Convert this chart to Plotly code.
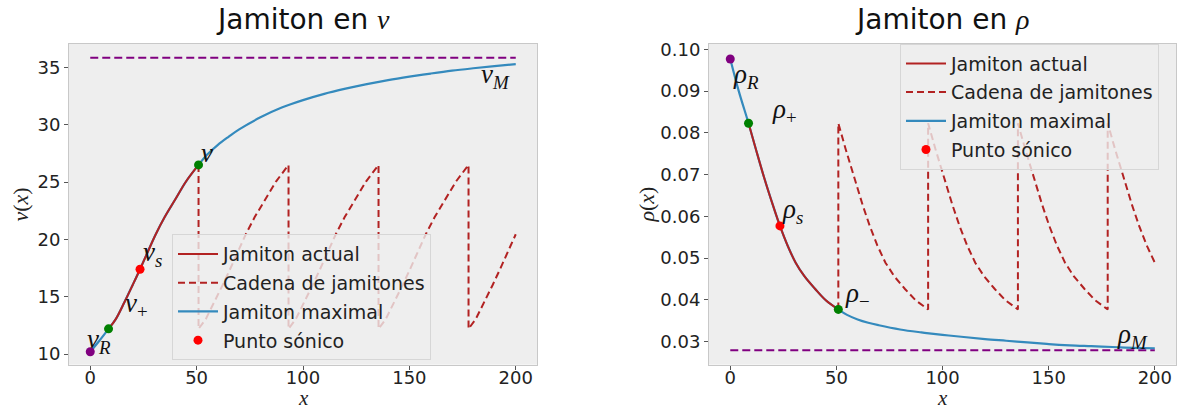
import plotly.graph_objects as go

# Jamiton profile sampled along x: maximal jamiton (covers the whole domain)
x_prof = [0, 4, 8.6, 12, 16, 20, 23.4, 27, 30.8, 35, 40, 45, 50.9, 55, 60, 65, 70, 80,
          90, 100, 110, 120, 130, 140, 150, 160, 170, 180, 190, 200]
v_prof = [10.2, 11.1, 12.2, 13.05, 14.5, 16.05, 17.4, 18.9, 20.45, 21.95, 23.5, 25.05, 26.5,
          27.4, 28.25, 28.95, 29.6, 30.65, 31.5, 32.15, 32.7, 33.15, 33.55, 33.9, 34.2,
          34.47, 34.72, 34.93, 35.12, 35.3]
rho_prof = [0.0977, 0.0900, 0.0823, 0.0762, 0.0692, 0.0628, 0.0577, 0.0530, 0.0489,
            0.0456, 0.0426, 0.0399, 0.0377, 0.0364, 0.0353, 0.0345, 0.0339, 0.0329,
            0.0322, 0.0316, 0.0311, 0.0306, 0.0302, 0.0298, 0.0294, 0.0291, 0.0289,
            0.0287, 0.0285, 0.0284]

# Special points
x_R, v_R, rho_R = 0, 10.2, 0.0977
x_plus, v_plus, rho_plus = 8.6, 12.2, 0.0823
x_sonic, v_sonic, rho_sonic = 23.4, 17.4, 0.0577
x_minus, v_minus, rho_minus = 50.9, 26.5, 0.0377
v_M, rho_M = 35.85, 0.0279
x_lim = [0, 200]

# Chain of jamitons: the actual jamiton repeated with its own wavelength
period = 42.3
n_teeth = 4

i0 = x_prof.index(x_plus)
i1 = x_prof.index(x_minus) + 1
x_act = x_prof[i0:i1]
v_act = v_prof[i0:i1]
rho_act = rho_prof[i0:i1]


def chain(xs, ys):
    cx, cy = [xs[-1]], [ys[-1]]
    for k in range(1, n_teeth + 1):
        for xi, yi in zip(xs, ys):
            xk = xi + k * period
            if xk <= x_lim[1] + 1e-6:
                cx.append(xk)
                cy.append(yi)
    return cx, cy


RED = "#B22222"
BLUE = "#348ABD"
PURPLE = "#800080"
GREEN = "#008000"
DOT_RED = "#FF0000"
SANS = "DejaVu Sans"
SERIF = "Liberation Serif"

fig = go.Figure()


def add_panel(xa, ya, yprof, yact, y_R, y_plus, y_sonic, y_minus, y_M, legend):
    cx, cy = chain(x_act, yact)
    # horizontal asymptote
    fig.add_trace(go.Scatter(x=x_lim, y=[y_M, y_M], mode="lines", xaxis=xa, yaxis=ya,
                             line=dict(color=PURPLE, width=2, dash="8px,4px"),
                             showlegend=False, hoverinfo="skip"))
    fig.add_trace(go.Scatter(x=x_prof, y=yprof, mode="lines", name="Jamiton maximal",
                             xaxis=xa, yaxis=ya, legend=legend, legendrank=3,
                             legendgroup=legend + "c",
                             line=dict(color=BLUE, width=2.2, shape="spline", smoothing=1.0)))
    fig.add_trace(go.Scatter(x=cx, y=cy, mode="lines", name="Cadena de jamitones",
                             xaxis=xa, yaxis=ya, legend=legend, legendrank=2,
                             legendgroup=legend + "b",
                             line=dict(color=RED, width=2, dash="7px,4px")))
    fig.add_trace(go.Scatter(x=x_act, y=yact, mode="lines", name="Jamiton actual",
                             xaxis=xa, yaxis=ya, legend=legend, legendrank=1,
                             legendgroup=legend + "a",
                             line=dict(color=RED, width=2, shape="spline", smoothing=1.0)))
    fig.add_trace(go.Scatter(x=[x_R], y=[y_R], mode="markers", xaxis=xa, yaxis=ya,
                             marker=dict(color=PURPLE, size=9), showlegend=False))
    fig.add_trace(go.Scatter(x=[x_plus, x_minus], y=[y_plus, y_minus], mode="markers",
                             xaxis=xa, yaxis=ya, marker=dict(color=GREEN, size=9),
                             showlegend=False))
    fig.add_trace(go.Scatter(x=[x_sonic], y=[y_sonic], mode="markers", name="Punto sónico",
                             xaxis=xa, yaxis=ya, legend=legend, legendrank=4,
                             legendgroup=legend + "d",
                             marker=dict(color=DOT_RED, size=9)))


add_panel("x", "y", v_prof, v_act, v_R, v_plus, v_sonic, v_minus, v_M, "legend")
add_panel("x2", "y2", rho_prof, rho_act, rho_R, rho_plus, rho_sonic, rho_minus, rho_M, "legend2")

axis_common = dict(showgrid=False, zeroline=False, showline=True, mirror=True,
                   linecolor="#c8c8c8", linewidth=1, ticks="outside", ticklen=4,
                   tickcolor="#555555", tickfont=dict(family=SANS, size=18, color="#222222"))

legend_common = dict(xanchor="left", yanchor="top",
                     bgcolor="rgba(238,238,238,0.8)", bordercolor="#d6d6d6", borderwidth=1,
                     font=dict(family=SANS, size=19, color="#222222"), tracegroupgap=1,
                     itemwidth=40)

fig.update_layout(
    width=1179, height=413,
    margin=dict(l=0, r=0, t=0, b=0),
    paper_bgcolor="white",
    plot_bgcolor="#EEEEEE",
    xaxis=dict(domain=[0.0585, 0.4555], range=[-10, 210], tickvals=[0, 50, 100, 150, 200],
               anchor="y", ticklabelstandoff=-7, **axis_common),
    yaxis=dict(domain=[0.1186, 0.9056], range=[9.08, 37.09], tickvals=[10, 15, 20, 25, 30, 35],
               anchor="x", **axis_common),
    xaxis2=dict(domain=[0.6014, 0.9975], range=[-10, 210], tickvals=[0, 50, 100, 150, 200],
                anchor="y2", ticklabelstandoff=-7, **axis_common),
    yaxis2=dict(domain=[0.1186, 0.9056], range=[0.02448, 0.1014],
                tickvals=[0.03, 0.04, 0.05, 0.06, 0.07, 0.08, 0.09, 0.10], tickformat=".2f",
                anchor="x2", **axis_common),
    legend=dict(x=172 / 1179, y=1 - 232 / 413, **legend_common),
    legend2=dict(x=900 / 1179, y=1 - 39 / 413, **legend_common),
    showlegend=True,
)

# Titles and axis labels
fig.add_annotation(text="Jamiton en <span style='font-family:Liberation Serif'><i>v</i></span>",
                   xref="paper", yref="paper", x=0.257, y=1 - 15 / 413, showarrow=False,
                   xanchor="center", yanchor="middle", font=dict(family=SANS, size=28, color="#111"))
fig.add_annotation(text="Jamiton en <span style='font-family:Liberation Serif'><i>ρ</i></span>",
                   xref="paper", yref="paper", x=0.7995, y=1 - 15 / 413, showarrow=False,
                   xanchor="center", yanchor="middle", font=dict(family=SANS, size=28, color="#111"))

lab_font = dict(family=SERIF, size=22, color="#222")
for xp, txt in [(21, "<i>v</i>(<i>x</i>)"), (647, "<i>ρ</i>(<i>x</i>)")]:
    fig.add_annotation(text=txt, xref="paper", yref="paper", x=xp / 1179, y=1 - 202 / 413,
                       showarrow=False, textangle=-90, xanchor="center", yanchor="middle",
                       font=lab_font)
for xp in [303, 942]:
    fig.add_annotation(text="<i>x</i>", xref="paper", yref="paper", x=xp / 1179, y=1 - 398 / 413,
                       showarrow=False, xanchor="center", yanchor="middle",
                       font=dict(family=SERIF, size=21, color="#222"))

# Point labels
pt_font = dict(family=SERIF, size=27, color="#111")
v_labels = [(4.2, 11.15, "<i>v</i><sub><i>R</i></sub>"),
            (21.6, 14.26, "<i>v</i><sub>+</sub>"),
            (29.4, 18.69, "<i>v</i><sub><i>s</i></sub>"),
            (55.1, 27.5, "<i>v</i>"),
            (190.4, 34.25, "<i>v</i><sub><i>M</i></sub>")]
rho_labels = [(7.6, 0.0936, "<i>ρ</i><sub><i>R</i></sub>"),
              (25.5, 0.0853, "<i>ρ</i><sub>+</sub>"),
              (29.5, 0.0612, "<i>ρ</i><sub><i>s</i></sub>"),
              (59.9, 0.0412, "<i>ρ</i><sub>−</sub>"),
              (189.5, 0.0313, "<i>ρ</i><sub><i>M</i></sub>")]
for xv, yv, txt in v_labels:
    fig.add_annotation(text=txt, x=xv, y=yv, xref="x", yref="y", showarrow=False,
                       xanchor="center", yanchor="middle", font=pt_font)
for xv, yv, txt in rho_labels:
    fig.add_annotation(text=txt, x=xv, y=yv, xref="x2", yref="y2", showarrow=False,
                       xanchor="center", yanchor="middle", font=pt_font)

fig.write_html("out.html")
